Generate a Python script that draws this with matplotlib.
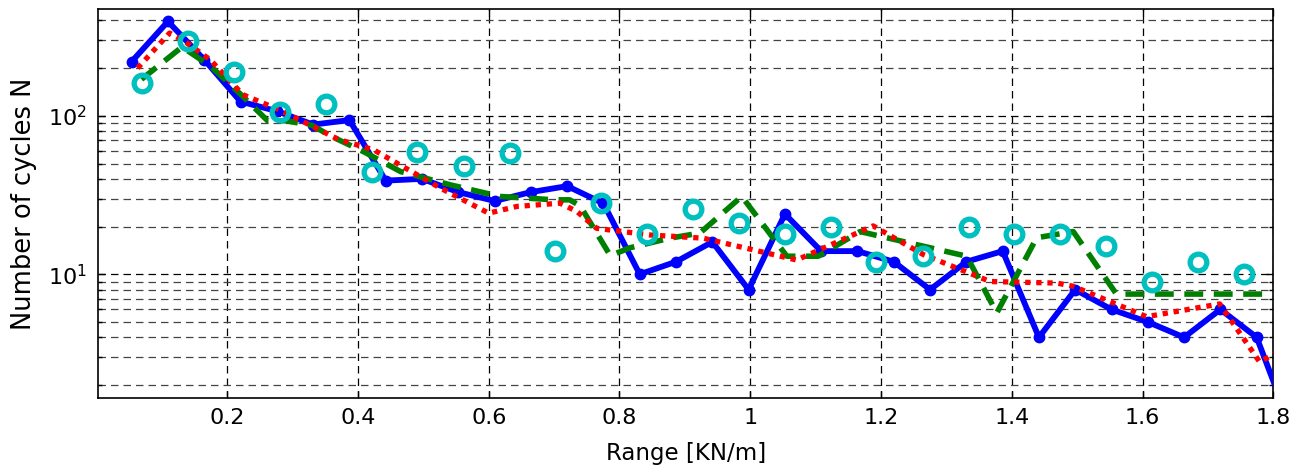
import matplotlib
matplotlib.use("Agg")
import matplotlib.pyplot as plt
from matplotlib.ticker import LogLocator, NullFormatter

# measured cycle counts per load range bin
blue_x = [0.054, 0.1095, 0.165, 0.2205, 0.276, 0.3315, 0.387, 0.4425, 0.498, 0.5535,
          0.609, 0.6645, 0.72, 0.7755, 0.831, 0.8865, 0.942, 0.9975, 1.053, 1.1085,
          1.164, 1.2195, 1.275, 1.3305, 1.386, 1.4415, 1.497, 1.5525, 1.608, 1.6635,
          1.719, 1.7745, 1.83]
blue_n = [220, 394, 226, 123, 107, 88, 94, 39, 40, 33,
          29, 33, 36, 28, 10, 12, 16, 8, 24, 14,
          14, 12, 8, 12, 14, 4, 8, 6, 5, 4,
          6, 4, 1]

# second series (dashed)
green_x = [0.069, 0.131, 0.175, 0.222, 0.262, 0.29, 0.33, 0.36, 0.41, 0.465,
           0.541, 0.617, 0.70, 0.724, 0.74, 0.786, 0.816, 0.877, 0.923, 0.987,
           1.056, 1.104, 1.168, 1.331, 1.377, 1.438, 1.494, 1.560, 1.80]
green_n = [170, 272, 205, 135, 93, 93, 87, 74, 59, 44.5,
           36.7, 31, 29.5, 29.5, 27, 13.1, 14.7, 16.9, 18.2, 31,
           13, 13, 18.6, 13, 5.7, 17, 18.6, 7.5, 7.5]

# third series (dotted)
red_x = [0.063, 0.112, 0.135, 0.174, 0.224, 0.28, 0.335, 0.37, 0.424, 0.526,
         0.600, 0.643, 0.709, 0.735, 0.765, 0.847, 0.928, 1.071, 1.188, 1.265,
         1.367, 1.469, 1.494, 1.606, 1.718, 1.779, 1.805]
red_n = [200, 333, 295, 226, 136, 109, 84, 71, 61, 35,
         24.3, 26.8, 28.1, 24.9, 19.5, 17.7, 16.9, 12.3, 20.2, 13.3,
         9.0, 8.8, 8.4, 5.4, 6.5, 2.8, 3.2]

# circle markers
cyan_x = [0.070, 0.140, 0.211, 0.281, 0.351, 0.421, 0.491, 0.562, 0.632, 0.702,
          0.772, 0.842, 0.913, 0.983, 1.053, 1.123, 1.193, 1.264, 1.334, 1.404,
          1.474, 1.544, 1.615, 1.685, 1.755]
cyan_n = [162, 298, 188, 105, 119, 44, 59, 48, 58, 14,
          28, 18, 26, 21, 18, 20, 12, 13, 20, 18,
          18, 15, 9, 12, 10]

xticks = [0.2, 0.4, 0.6, 0.8, 1, 1.2, 1.4, 1.6, 1.8]
xticklabels = ["0.2", "0.4", "0.6", "0.8", "1", "1.2", "1.4", "1.6", "1.8"]

fig = plt.figure(figsize=(13.06, 4.70), dpi=100)
ax = fig.add_axes([0.0753, 0.1526, 0.8997, 0.8276])

ax.plot(blue_x, blue_n, color=(0, 0, 1), lw=4.2, marker="o", ms=7.5, zorder=3)
ax.plot(green_x, green_n, color=(0, 0.5, 0), lw=4.0, linestyle=(0, (3.4, 1.9)),
        dash_capstyle="butt", zorder=4)
ax.plot(red_x, red_n, color=(1, 0, 0), lw=3.8, linestyle=(0, (1, 1.1)),
        dash_capstyle="butt", zorder=5)
ax.plot(cyan_x, cyan_n, linestyle="none", marker="o", ms=12, mew=3.8,
        mfc="none", mec=(0, 0.75, 0.75), zorder=6)

ax.set_yscale("log")
ax.set_xlim(0.003, 1.8)
ax.set_ylim(1.65, 470)
ax.set_xticks(xticks)
ax.set_xticklabels(xticklabels)
ax.yaxis.set_major_locator(LogLocator(base=10))
ax.yaxis.set_minor_locator(LogLocator(base=10, subs=range(2, 10)))
ax.yaxis.set_minor_formatter(NullFormatter())

ax.grid(True, which="major", color="black", lw=0.9, linestyle=(0, (6, 4)))
ax.grid(True, which="minor", axis="y", color="#444444", lw=0.9, linestyle=(0, (6, 4)))

ax.tick_params(which="both", direction="in", top=True, right=True, labelsize=16)
ax.tick_params(which="major", length=5, width=1)
ax.tick_params(which="minor", length=3, width=1)
ax.tick_params(axis="x", pad=7)
ax.tick_params(axis="y", pad=8)
for s in ax.spines.values():
    s.set_linewidth(1.2)

ax.set_xlabel("Range [KN/m]", fontsize=16.5, labelpad=10)
ax.set_ylabel("Number of cycles N", fontsize=18.5, labelpad=8)

fig.savefig("out.png", dpi=100)
